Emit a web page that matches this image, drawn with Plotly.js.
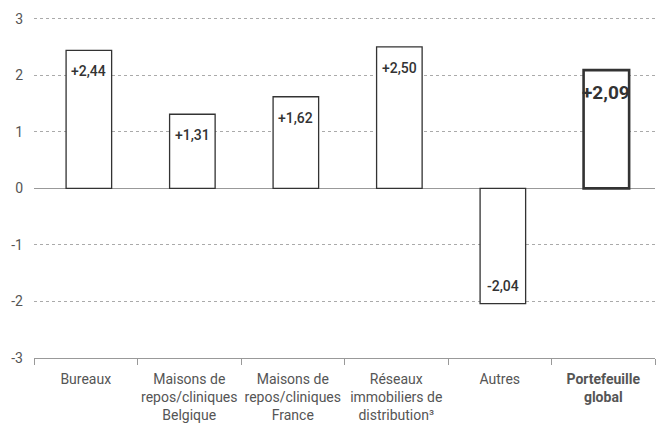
<!DOCTYPE html>
<html><head><meta charset="utf-8">
<script src="https://cdn.plot.ly/plotly-3.0.1.min.js"></script>
<style>body{margin:0;background:#fff}#c{width:661px;height:424px}</style>
</head><body><div id="c"></div>
<script>
const categories = ["Bureaux","Maisons de<br>repos/cliniques<br>Belgique","Maisons de<br>repos/cliniques<br>France","Réseaux<br>immobiliers de<br>distribution³","Autres","<b>Portefeuille<br>global</b>"];
const values = [2.44, 1.31, 1.62, 2.50, -2.04, 2.09];
const labels = ["+2,44","+1,31","+1,62","+2,50","-2,04","<b>+2,09</b>"];
const yTicks = [-3,-2,-1,0,1,2,3];

const last = values.length - 1;
const lineWidths = values.map((v,i)=> i===last ? 2.6 : 1.3);

const trace = {
  type:'bar', x: categories, y: values,
  marker:{color:'#ffffff', line:{color:'#333333', width:lineWidths}},
  width:0.44, offset:-0.19, hoverinfo:'none'
};
const annotations = values.map((v,i)=>({
  x: categories[i], y: v, xref:'x', yref:'y',
  text: labels[i], showarrow:false,
  yanchor: v >= 0 ? 'top' : 'bottom',
  yshift: v >= 0 ? (i===last ? -9 : -11) : 8,
  xshift: 3,
  font:{family:'Roboto, sans-serif', size: i===last ? 19 : 14, color:'#333', weight:500}
}));
const layout = {
  width:661, height:424,
  margin:{l:33.5, r:5.5, t:17, b:66},
  paper_bgcolor:'#fff', plot_bgcolor:'#fff',
  showlegend:false,
  font:{family:'Roboto, sans-serif', color:'#555'},
  annotations: annotations,
  xaxis:{type:'category', tickson:'boundaries', ticks:'outside', ticklen:6, tickcolor:'#999', tickwidth:1,
    showline:true, linecolor:'#999', linewidth:1, showgrid:false, zeroline:false,
    tickangle:0, ticklabelstandoff:8,
    tickfont:{size:14, color:'#555'}, fixedrange:true},
  yaxis:{range:[-3,3.03], tickvals:yTicks, ticktext:yTicks.map(String), showline:false, ticks:'',
    showgrid:true, gridcolor:'#aaaaaa', griddash:'dot', gridwidth:1,
    zeroline:true, zerolinecolor:'#999', zerolinewidth:1,
    ticklabelstandoff:10, tickfont:{size:14, color:'#555'}, fixedrange:true}
};
Plotly.newPlot('c',[trace],layout,{staticPlot:true});
</script></body></html>
